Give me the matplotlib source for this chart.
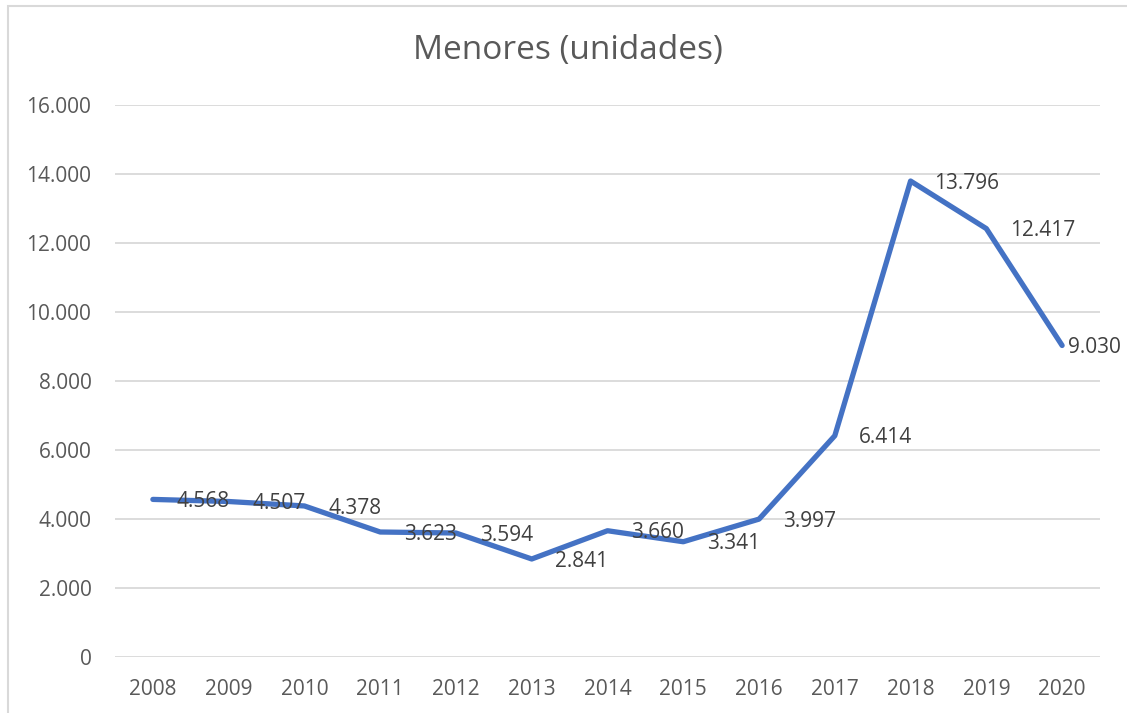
import matplotlib
matplotlib.use("Agg")
import matplotlib.pyplot as plt
from matplotlib.ticker import FuncFormatter
from matplotlib.patches import Rectangle

years = ["2008", "2009", "2010", "2011", "2012", "2013", "2014",
         "2015", "2016", "2017", "2018", "2019", "2020"]
values = [4568, 4507, 4378, 3623, 3594, 2841, 3660,
          3341, 3997, 6414, 13796, 12417, 9030]
title = "Menores (unidades)"

plt.rcParams['font.family'] = ['Open Sans', 'DejaVu Sans']
text_color = "#595959"
grid_color = "#d9d9d9"
line_color = "#4472C4"

fig = plt.figure(figsize=(11.27, 7.13), dpi=100)
ax = fig.add_axes([115/1127, 1-657/713, (1100-115)/1127, (657-105)/713])

x = list(range(len(years)))
ax.plot(x, values, color=line_color, linewidth=3.8, solid_capstyle='round',
        solid_joinstyle='round', zorder=3)

def fmt(v):
    return f"{int(v):,}".replace(",", ".")

for i, v in enumerate(values):
    off = 17 if i < len(values) - 1 else 4
    ax.annotate(fmt(v), (i, v), xytext=(off, -1.5), textcoords='offset points',
                ha='left', va='center', fontsize=15, color="#404040", zorder=4,
                annotation_clip=False)

ax.set_xlim(-0.5, len(years) - 0.5)
ax.set_ylim(0, 16000)
ax.set_yticks(range(0, 16001, 2000))
ax.yaxis.set_major_formatter(FuncFormatter(lambda v, p: fmt(v)))
ax.set_xticks(x)
ax.set_xticklabels(years)
ax.tick_params(axis='y', length=0, pad=17, labelsize=15, labelcolor=text_color)
ax.tick_params(axis='x', length=0, pad=15.5, labelsize=15, labelcolor=text_color)
ax.grid(axis='y', color=grid_color, linewidth=1.3, zorder=0)
for s in ax.spines.values():
    s.set_visible(False)
ax.set_axisbelow(True)

fig.text(568/1127, 1-51/713, title, ha='center', va='center', fontsize=24,
         color=text_color)

fig.patches.append(Rectangle((8/1127, -0.01), 1.1, 1-6/713 + 0.01,
                             transform=fig.transFigure, fill=False,
                             edgecolor=grid_color, linewidth=1.5))

fig.savefig("out.png", dpi=100)
